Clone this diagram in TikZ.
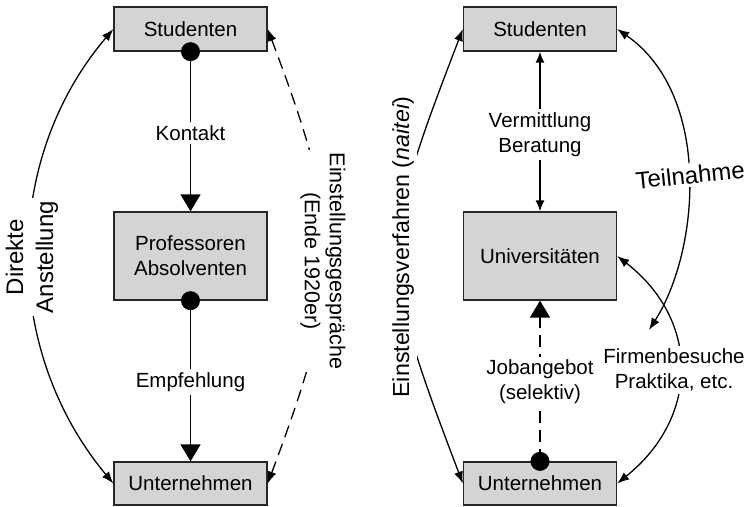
\documentclass[tikz,border=0pt]{standalone}
\usepackage{fontspec}
\setmainfont{Liberation Sans}
\usetikzlibrary{arrows.meta}
\definecolor{boxgray}{RGB}{212,212,212}
\newcommand\myS{\fontsize{20.5}{25}\selectfont}
\newcommand\myM{\fontsize{21.5}{25}\selectfont}
\newcommand\myL{\fontsize{24}{30}\selectfont}
\newcommand\myLL{\fontsize{23.2}{28}\selectfont}
\begin{document}
\begin{tikzpicture}[x=1pt,y=-1pt,
  box/.style={draw=black!85, line width=1.3pt, fill=boxgray, minimum width=153pt, align=center, inner sep=0pt, font=\myS},
  lbl/.style={fill=white, inner sep=3pt, align=center, font=\myS},
  dotn/.style={circle, fill=black, inner sep=0pt, minimum size=19pt},
  sline/.style={line width=1.5pt},
  bigtip/.style={-{Triangle[width=20pt,length=17pt]}},
  curve/.style={line width=1.3pt, {Latex[length=12pt,width=9pt]}-{Latex[length=12pt,width=9pt]}},
  dashline/.style={dash pattern=on 12pt off 7pt}
]
\useasboundingbox (0,0) rectangle (751,506);

% left column
\node[box, minimum height=44pt] (LS) at (190.5,29) {Studenten};
\node[box, minimum height=88pt] (LP) at (190.5,256) {Professoren\\Absolventen};
\node[box, minimum height=43pt] (LU) at (190.5,483.5) {Unternehmen};

% right column
\node[box, minimum height=44pt] (RS) at (540,29) {Studenten};
\node[box, minimum height=88pt] (RUni) at (540,256) {Universitäten};
\node[box, minimum height=43pt] (RU) at (540,483.5) {Unternehmen};

% dots
\node[dotn] (d1) at (LS.south) {};
\node[dotn] (d2) at (LP.south) {};
\node[dotn] (d3) at (RU.north) {};

% left straight arrows
\draw[sline, bigtip] (d1.center) -- (LP.north);
\draw[sline, bigtip] (d2.center) -- (LU.north);

% left curves
\draw[curve] (LS.west) .. controls (2,160) and (2,350) .. (LU.west);
\draw[curve, dashline] (LS.east) .. controls (344,231) and (344,280) .. (LU.east);

% right straight arrows
\draw[sline, {Latex[length=11pt,width=9pt]}-{Latex[length=11pt,width=9pt]}] (RS.south) -- (RUni.north);
\draw[sline, bigtip, dashline] (d3.center) -- (RUni.south);

% right curves
\coordinate (tend) at (649,330);
\draw[curve] (RS.west) .. controls (378,250) and (378,260) .. (RU.west);
\draw[curve] (RS.east) .. controls (712,95) and (700,250) .. (tend);
\draw[curve] (RUni.east) .. controls (700,320) and (700,417) .. (RU.east);

% labels
\node[lbl] (lk) at (190.5,133) {Kontakt};
\node[lbl] (le) at (190.5,382) {Empfehlung};
\node[lbl, rotate=90, font=\myL] (lda) at (32,257) {Direkte\\Anstellung};
\node[lbl, rotate=-90, font=\myM] (lei) at (323,261) {Einstellungsgespräche\\(Ende 1920er)};
\node[lbl] (lvb) at (540,134.5) {Vermittlung\\Beratung};
\node[lbl] (ljs) at (540,382) {Jobangebot\\(selektiv)};
\node[lbl, rotate=90, font=\myLL] (lev) at (403,247) {Einstellungsverfahren (\textit{naitei})};
\node[lbl, rotate=6, font=\myL] (lt) at (690,175) {Teilnahme};
\node[lbl] (lf) at (674,370) {Firmenbesuche\\Praktika, etc.};
\end{tikzpicture}
\end{document}
